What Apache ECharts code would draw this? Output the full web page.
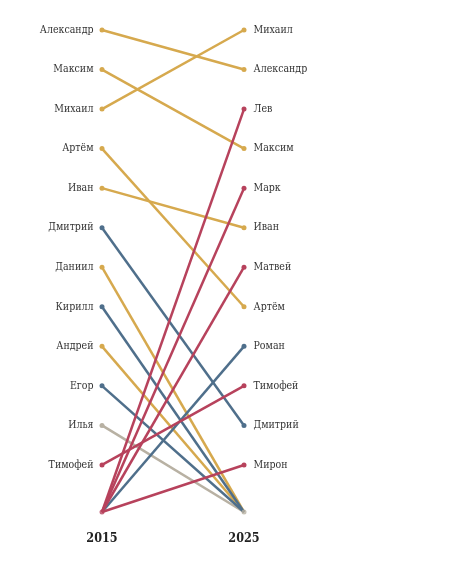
<!DOCTYPE html>
<html>
<head>
<meta charset="utf-8">
<script src="https://cdn.jsdelivr.net/npm/echarts@6/dist/echarts.min.js"></script>
<style>
  html, body { margin: 0; padding: 0; background: #fff; }
  #chart { width: 450px; height: 566px; }
</style>
</head>
<body>
<div id="chart"></div>
<script>
const years = ["2015", "2025"];
const top2015 = ["Александр", "Максим", "Михаил", "Артём", "Иван", "Дмитрий", "Даниил", "Кирилл", "Андрей", "Егор", "Илья", "Тимофей"];
const top2025 = ["Михаил", "Александр", "Лев", "Максим", "Марк", "Иван", "Матвей", "Артём", "Роман", "Тимофей", "Дмитрий", "Мирон"];
const goldNames = ["Александр", "Максим", "Михаил", "Артём", "Иван", "Даниил", "Андрей"];
const blueNames = ["Дмитрий", "Кирилл", "Егор", "Роман"];
const greyNames = ["Илья"];
const redNames = ["Тимофей", "Лев", "Марк", "Матвей", "Мирон"];
// position of names outside the top 12
const OUT = 13.19;

const colorOf = (n) => {
  if (goldNames.includes(n)) return "#d6a94e";
  if (blueNames.includes(n)) return "#4f6f8b";
  if (greyNames.includes(n)) return "#b8b1a3";
  return "#b7425c";
};

const allNames = [...greyNames, ...goldNames, ...blueNames, ...redNames];

const series = allNames.map((name) => {
  const i1 = top2015.indexOf(name);
  const i2 = top2025.indexOf(name);
  const c = colorOf(name);
  return {
    name: name,
    type: "line",
    symbol: "circle",
    symbolSize: 5,
    lineStyle: { width: 2.5, color: c },
    itemStyle: { color: c },
    silent: true,
    data: [
      {
        value: i1 >= 0 ? i1 + 1 : OUT,
        symbolSize: i1 >= 0 ? 5 : 0,
        label: { show: i1 >= 0, position: "left", distance: 6 },
      },
      {
        value: i2 >= 0 ? i2 + 1 : OUT,
        symbolSize: i2 >= 0 ? 5 : 0,
        label: { show: i2 >= 0, position: "right", distance: 7 },
      },
    ],
    label: {
      formatter: name,
      fontFamily: "DejaVu Serif Condensed, DejaVu Serif",
      fontSize: 10.5,
      color: "#333",
    },
  };
});

series.push({
  type: "scatter",
  symbolSize: 5,
  silent: true,
  z: 5,
  data: [
    { value: [years[0], OUT], itemStyle: { color: "#b7425c" } },
    { value: [years[1], OUT], itemStyle: { color: "#b8b1a3" } },
  ],
});

const option = {
  animation: false,
  grid: { left: 102, right: 206, top: 30, bottom: 54 },
  xAxis: {
    type: "category",
    data: years,
    boundaryGap: false,
    axisLine: { show: false },
    axisTick: { show: false },
    splitLine: { show: false },
    axisLabel: {
      margin: 20,
      fontFamily: "DejaVu Serif Condensed, DejaVu Serif",
      fontWeight: "bold",
      fontSize: 12.5,
      color: "#222",
    },
  },
  yAxis: {
    type: "value",
    inverse: true,
    min: 1,
    max: OUT,
    show: false,
  },
  series: series,
};

const myChart = echarts.init(document.getElementById("chart"));
myChart.setOption(option);
</script>
</body>
</html>
